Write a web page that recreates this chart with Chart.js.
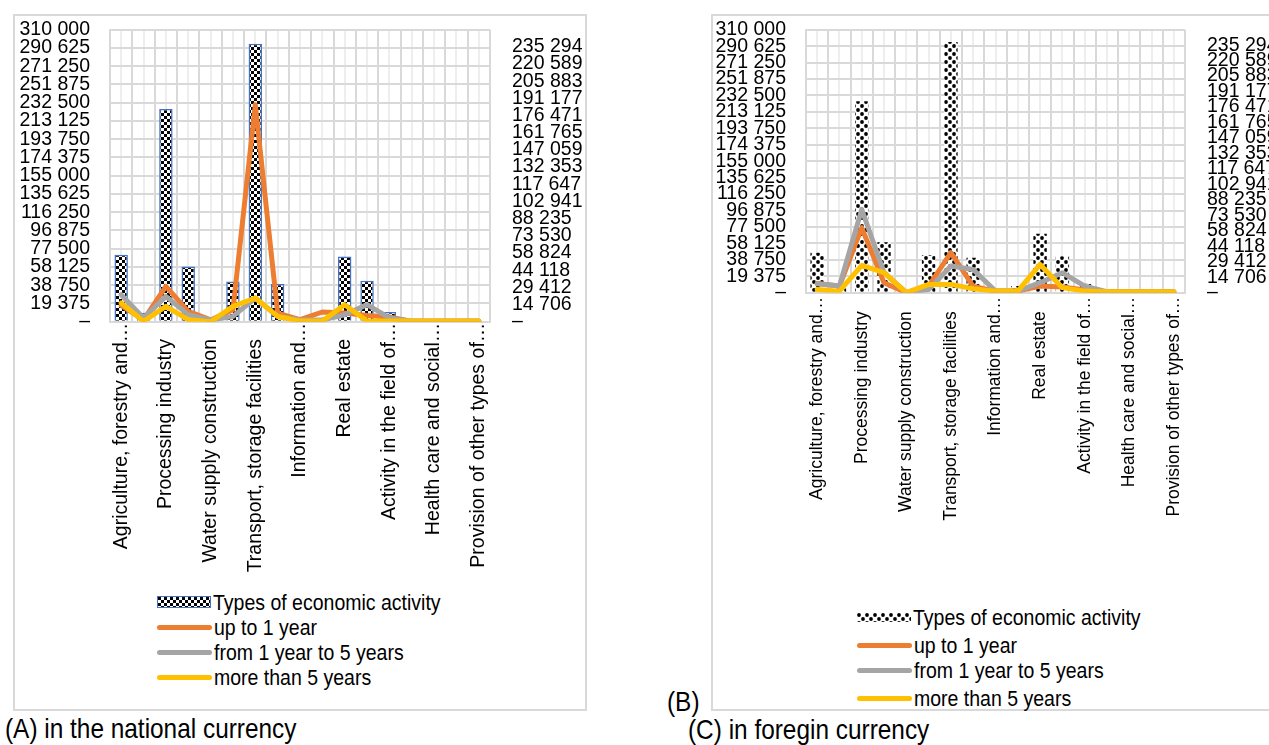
<!DOCTYPE html>
<html>
<head>
<meta charset="utf-8">
<script src="https://cdn.jsdelivr.net/npm/chart.js@4.4.1/dist/chart.umd.min.js"></script>
<style>
  body { margin: 0; background: #fff; width: 1269px; height: 745px; overflow: hidden; position: relative;
         font-family: 'Liberation Sans', Arial, sans-serif; color: #000; }
  .frame { position: absolute; border: 2px solid #d9d9d9; box-sizing: border-box; }
  canvas { position: absolute; }
  .legend { position: absolute; font-size: 19.5px; }
  .legend .row { position: absolute; left: 0; height: 24px; white-space: nowrap; display: flex; align-items: center; }
  .legend .sw { flex: none; margin-right: 2px; box-sizing: border-box; }
  .legend span, .cap { display: inline-block; transform: scaleY(1.15); }
  .cap { position: absolute; font-size: 24.4px; line-height: 26px; white-space: nowrap; }
</style>
</head>
<body>
<div class="frame" style="left:13px;top:14px;width:574px;height:697px"></div>
<div class="frame" style="left:711px;top:14px;width:600px;height:697px"></div>
<canvas id="chartA" width="572" height="580" style="left:14px;top:0px"></canvas>
<canvas id="chartB" width="557" height="540" style="left:712px;top:0px"></canvas>
<div id="legendA" class="legend" style="left:157px;top:0px"></div>
<div id="legendB" class="legend" style="left:857px;top:0px"></div>
<div class="cap" style="left:5px;top:716px">(A) in the national currency</div>
<div class="cap" style="left:667px;top:689px">(B)</div>
<div class="cap" style="left:688px;top:717px">(C) in foregin currency</div>

<script>
const categories = [
  'Agriculture, forestry and…',
  'Mining and quarrying',
  'Processing industry',
  'Electricity, gas, steam…',
  'Water supply construction',
  'Wholesale and retail trade…',
  'Transport, storage facilities',
  'Accommodation and catering',
  'Information and…',
  'Financial and insurance…',
  'Real estate',
  'Professional, scientific…',
  'Activity in the field of…',
  'Education',
  'Health care and social…',
  'Arts, sports, entertainment…',
  'Provision of other types of…'
]
const seriesNames = ['Types of economic activity', 'up to 1 year', 'from 1 year to 5 years', 'more than 5 years']
const lineColors = ['#ED7D31', '#A5A5A5', '#FFC000']

const leftMax = 310000
const rightMax = 250000
const leftTicks = [0, 19375, 38750, 58125, 77500, 96875, 116250, 135625, 155000, 174375,
  193750, 213125, 232500, 251875, 271250, 290625, 310000]
const rightTicks = [0, 14706, 29412, 44118, 58824, 73530, 88235, 102941, 117647, 132353,
  147059, 161765, 176471, 191177, 205883, 220589, 235294]

// (A) national currency
const nationalActivity = [71100, 9500, 225800, 58700, 0, 42800, 295100, 40000, 0, 0, 69300, 43500, 10300, 0, 0, 0, 0]
const nationalUpTo1 = [14000, 1500, 30200, 8800, 1500, 10300, 185800, 7400, 1700, 8300, 7400, 5400, 4000, 300, 300, 300, 300]
const nationalFrom1To5 = [23100, 3200, 21700, 6000, 1500, 4500, 20300, 4500, 1500, 1500, 6000, 14600, 3200, 500, 500, 500, 500]
const nationalOver5 = [16000, 300, 13100, 1700, 0, 13100, 20300, 4500, 500, 500, 14600, 500, 500, 500, 500, 500, 500]

// (C) foreign currency
const foreignActivity = [47100, 5000, 225800, 59600, 0, 44000, 295400, 41200, 0, 7800, 69500, 43100, 10600, 0, 0, 0, 0]
const foreignUpTo1 = [8800, 6300, 61800, 9500, 0, 6300, 38000, 6000, 1500, 1500, 6300, 5500, 2500, 1000, 1000, 1000, 1000]
const foreignFrom1To5 = [8500, 6300, 79200, 19000, 0, 3100, 25300, 22100, 1500, 1500, 9500, 19000, 6300, 1000, 1000, 1000, 1000]
const foreignOver5 = [3100, 1500, 25900, 19000, 0, 7900, 7900, 3800, 1500, 1500, 26900, 4800, 1500, 1000, 1000, 1000, 1000]

Chart.defaults.font.family = "'Liberation Sans', Arial, sans-serif"
Chart.defaults.font.size = 19.5
Chart.defaults.color = '#000'

function fmt (v) {
  if (v === 0) return '–'
  return String(Math.round(v)).replace(/\B(?=(\d{3})+(?!\d))/g, ' ')
}

// checkerboard tiles for the bars
function makeTile (kind) {
  const c = document.createElement('canvas')
  const g = c.getContext('2d')
  if (kind === 'small') {
    c.width = c.height = 6
    g.fillStyle = '#fff'
    g.fillRect(0, 0, 6, 6)
    g.fillStyle = '#000'
    g.fillRect(0, 0, 3, 3)
    g.fillRect(3, 3, 3, 3)
  } else {
    c.width = c.height = 8
    g.fillStyle = '#fff'
    g.fillRect(0, 0, 8, 8)
    g.fillStyle = '#000'
    ;[[2, 2], [6, 6], [6, -2], [-2, 6], [10, 6], [6, 10]].forEach(p => {
      g.beginPath()
      g.arc(p[0], p[1], 1.9, 0, Math.PI * 2)
      g.fill()
    })
  }
  return c
}

function buildChart (id, d) {
  const el = document.getElementById(id)
  const pattern = el.getContext('2d').createPattern(d.tile, 'repeat')
  const lines = [d.upTo1, d.from1To5, d.over5].map((data, i) => ({
    type: 'line',
    label: seriesNames[i + 1],
    data,
    yAxisID: 'y1',
    borderColor: lineColors[i],
    backgroundColor: lineColors[i],
    borderWidth: 5,
    pointRadius: 0,
    tension: 0,
    borderJoinStyle: 'round',
    borderCapStyle: 'round',
    order: 3 - i
  }))
  const chart = new Chart(el, {
    type: 'bar',
    data: {
      labels: categories,
      datasets: [{
        type: 'bar',
        label: seriesNames[0],
        data: d.activity,
        yAxisID: 'y',
        backgroundColor: pattern,
        borderColor: d.barBorder,
        borderWidth: d.barBorder ? 1.5 : 0,
        categoryPercentage: 1,
        barPercentage: 0.6,
        order: 4
      }].concat(lines)
    },
    options: {
      responsive: false,
      animation: false,
      devicePixelRatio: 1,
      layout: { padding: 0 },
      plugins: { legend: { display: false }, tooltip: { enabled: false } },
      scales: {
        x: {
          type: 'category',
          offset: true,
          grid: { offset: true, color: '#d9d9d9', lineWidth: 2, drawTicks: false },
          border: { color: '#d9d9d9', width: 2 },
          ticks: {
            autoSkip: false,
            minRotation: 90,
            maxRotation: 90,
            padding: d.xPad,
            font: { size: d.xFont },
            callback: function (v, i) {
              if (i % 2) return ''
              const s = this.getLabelForValue(v)
              return s.endsWith('…') ? s : s + '   '
            }
          },
          afterFit: s => { s.height = d.xH }
        },
        x2: {
          type: 'category',
          position: 'bottom',
          labels: categories,
          offset: true,
          z: -1,
          grid: { offset: false, color: '#eeeeee', lineWidth: 2, drawTicks: false },
          border: { display: false },
          ticks: { display: false },
          afterFit: s => { s.height = 0 }
        },
        y: {
          position: 'left',
          min: 0,
          max: leftMax,
          grid: { color: '#d9d9d9', lineWidth: 2, drawTicks: false },
          border: { color: '#d9d9d9', width: 2 },
          ticks: { autoSkip: false, padding: 20, callback: fmt },
          afterBuildTicks: s => { s.ticks = leftTicks.map(v => ({ value: v })) },
          afterFit: s => { s.width = d.yW }
        },
        y1: {
          position: 'right',
          min: 0,
          max: rightMax,
          grid: { display: false, drawTicks: false },
          border: { display: false },
          ticks: { autoSkip: false, padding: 22, callback: fmt },
          afterBuildTicks: s => { s.ticks = rightTicks.map(v => ({ value: v })) },
          afterFit: s => { s.width = d.y1W }
        }
      }
    }
  })
  // fit the plot box to the page: size the x-axis band so the plot is d.plotH tall,
  // then shift the canvas so the plot top lands at d.plotTop
  d.xH = el.height - chart.chartArea.top - d.plotH
  chart.update()
  el.style.top = (d.plotTop - chart.chartArea.top) + 'px'
  return chart
}

function renderLegend (chart, el, rowCenters, tile, barBorder, barH) {
  chart.data.datasets.forEach((ds, i) => {
    const row = document.createElement('div')
    row.className = 'row'
    row.style.top = (rowCenters[i] - 12) + 'px'
    const sw = document.createElement('div')
    sw.className = 'sw'
    if (ds.type === 'bar') {
      sw.style.width = '54px'
      sw.style.height = barH + 'px'
      sw.style.backgroundImage = 'url(' + tile.toDataURL() + ')'
      if (barBorder) sw.style.border = '1.5px solid ' + barBorder
    } else {
      sw.style.width = '55px'
      sw.style.height = '5px'
      sw.style.borderRadius = '3px'
      sw.style.background = ds.borderColor
    }
    row.appendChild(sw)
    const tx = document.createElement('span')
    tx.textContent = ds.label
    row.appendChild(tx)
    el.appendChild(row)
  })
}

const tileA = makeTile('small')
const tileB = makeTile('round')

const chartA = buildChart('chartA', {
  activity: nationalActivity, upTo1: nationalUpTo1, from1To5: nationalFrom1To5, over5: nationalOver5,
  tile: tileA, barBorder: '#4472C4', xFont: 19.5, xPad: 1, yW: 96, y1W: 96, xH: 250,
  plotTop: 30, plotH: 292
})
const chartB = buildChart('chartB', {
  activity: foreignActivity, upTo1: foreignUpTo1, from1To5: foreignFrom1To5, over5: foreignOver5,
  tile: tileB, barBorder: null, xFont: 17.5, xPad: 4, yW: 94, y1W: 84, xH: 240,
  plotTop: 30, plotH: 263
})

renderLegend(chartA, document.getElementById('legendA'), [602, 627, 652, 677], tileA, '#4472C4', 12)
renderLegend(chartB, document.getElementById('legendB'), [617, 645, 670, 698], tileB, null, 9)
</script>
</body>
</html>
